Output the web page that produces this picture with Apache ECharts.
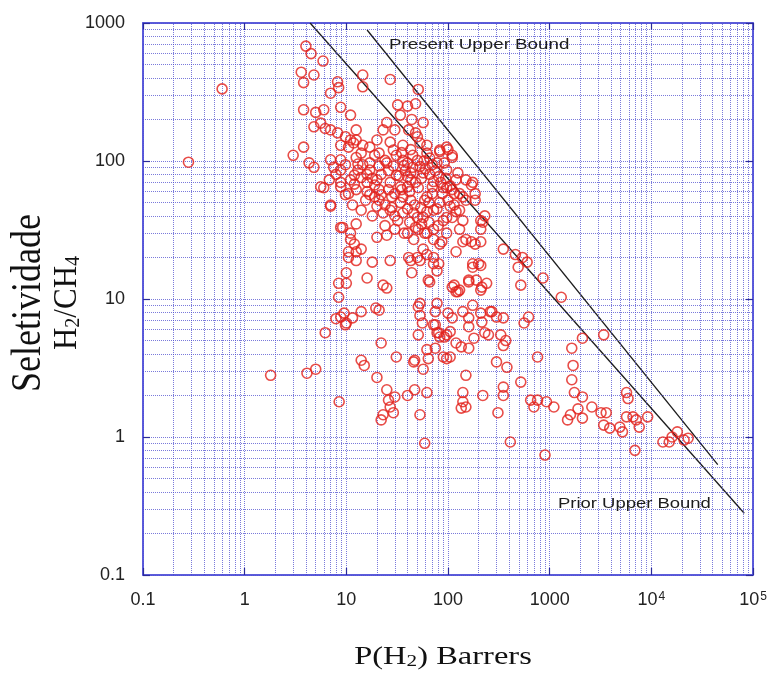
<!DOCTYPE html>
<html><head><meta charset="utf-8">
<script src="https://cdn.jsdelivr.net/npm/echarts@6/dist/echarts.min.js"></script>
<style>html,body{margin:0;padding:0;background:#fff}#c{width:775px;height:673px}</style>
</head><body><div id="c"></div>
<script>
// P(H2) [Barrer], selectivity H2/CH4
const membranePoints = [
[0.28,98],[0.6,333],[1.8,2.8],[4.1,2.9],[5.0,3.1],[8.5,1.8],
[4.0,680],[4.5,600],[5.9,530],[3.6,440],[4.8,420],[3.8,370],[8.2,375],[7.0,310],[8.4,340],[14.5,420],[14.5,345],[27,390],[51,330],
[3.8,235],[6.0,235],[8.8,245],[11,215],[4.8,177],[5.6,188],[7.0,168],[8.2,160],[9.8,150],[11,142],[11.8,135],[10.5,126],[3.0,110],
[3.8,126],[4.3,97],[4.8,90],[7.0,102],[7.5,90],[8.8,102],[5.6,65],[8.8,70],[7.0,48],[8.8,33],[11,27],[10.5,22],[12.5,22],[18,18.5],
[27,19],[16,14.2],[23,12.6],[8.4,13],[10,15.5],
[32,255],[40,250],[48,260],[34,215],[44,200],[57,190],[25,190],[23,168],[30,168],[41,168],[50,150],[20,142],[27,137],[36,130],[53,135],
[17,126],[21,114],[31,110],[62,114],[83,120],[97,126],[110,110],[17,97],[25,97],[40,97],[53,91],[78,97],[97,86],[5.0,225],[6.2,172],
[8.8,130],[12.5,168],[12.5,142],[14,114],[13,86],
[6,64],[6.8,73],[7.9,80],[8.8,65],[11,73],[10.5,58],[14,76],[12.5,62],[16,70],[17,57],[20,73],[21,62],[27,70],[28,55],[34,65],[40,77],
[43,52],[51,64],[62,55],[72,71],[83,50],[97,64],[120,73],[130,58],[150,52],[175,70],[185,58],[20,47],[23,42],[28,46],[40,45],[50,39],
[62,43],[78,45],[97,39],[120,43],[140,37],[210,37],[7,47],[12.5,35],[9.2,33],[11,30],[12,25],[14,23],[10.5,20],[12.5,19],[20,28],
[25,29],[30,32],[40,30],[46,27],[62,30],[72,27],[87,26],[57,23],[43,19],[50,20],[72,20],[81,18],[140,26],[170,26],[210,26],[120,22],
[175,18],[210,17.5],[44,15.5],[64,13.7],[78,16],[25,12],[10,13],[8.4,10.3],[110,12.2],[130,11.6],[160,13.7],[190,13.7],[210,11.6],
[53,9.3],[78,9.3],[75,8.1],[175,9],[210,7.9],[9.5,7.9],[14,8.1],[21,8.3],[8.8,7.4],
[11.5,7.3],[9.8,6.5],[6.2,5.7],[22,4.8],[14,3.6],[15,3.3],[20,2.7],[31,3.8],[47,3.6],[25,2.2],[30,1.95],[26,1.85],[27,1.65],[29,1.5],
[23,1.45],[22,1.33],[40,2.0],[47,2.2],[62,2.1],[53,1.45],[59,0.9],[51,8.8],[53,7.6],[56,6.7],[75,6.5],[51,5.5],[81,5.7],[97,5.5],
[62,4.3],[75,4.4],[64,3.7],[97,3.7],[105,3.8],[100,7.9],[110,7.3],[140,8.1],[160,7.3],[215,6.8],[160,6.3],[83,5.3],[105,5.8],[120,4.8],
[135,4.5],[160,4.4],[180,5.2],[230,5.7],[270,8.1],[300,7.4],[350,7.3],[250,5.5],[330,5.5],[370,5.0],[350,4.6],[560,6.7],[620,7.4],
[760,3.8],[300,3.5],[380,3.2],[150,2.8],[520,2.5],[350,2.3],[350,2.0],[220,2.0],[140,2.1],[140,1.8],[150,1.65],[135,1.62],[310,1.5],
[650,1.85],[760,1.85],[700,1.65],[930,1.8],[1100,1.65],[410,0.92],[900,0.74],
[7.9,7.2],[10,6.7],[19.5,8.6],[46,3.5],[57,3.1],[72,6.5],[78,5.7],[92,5.3],[90,3.8],
[1300,10.3],[2100,5.2],[3400,5.5],[1650,4.4],[1700,3.3],[1650,2.6],[1750,2.1],[2100,1.95],[1900,1.6],[1600,1.45],[1500,1.33],
[2100,1.37],[2600,1.65],[3200,1.5],[3600,1.5],[3400,1.22],[3900,1.16],[4900,1.18],[5700,2.1],[5900,1.9],[5700,1.4],[5200,1.09],
[6600,1.4],[7100,1.33],[7600,1.18],[9200,1.4],[6900,0.8],[13000,0.92],[16000,1.0],[18000,1.09],[21000,0.95],[23000,0.98],[15000,0.92],
[66,13.3],[115,12.6],[125,11.3],[160,13.3],[240,13],[520,12.6],[260,8.1],
[48,160],[62,130],[83,117],[100,121],[110,106],[92,97],[43,121],[36,101],[50,101],[70,94],[43,82],[57,82],[81,77],[125,82],[150,73],
[170,67],[185,52],[140,55],[110,62],[90,64],[70,65],[40,65],[59,52],[105,47],[130,44],[72,44],[46,42],[57,39],[90,37],[110,39],
[230,40],[220,36],[210,32],[150,27],[185,25],[130,32],[350,23],[460,21],[540,20],[600,18.5],[490,17],[860,14.2],[120,11.3],[215,12.2],
[175,17],[200,18],[72,18],[53,19],[41,20],[62,21],[83,25],[37,30],[51,32],[59,30],[72,32],[97,30],
[17,86],[19,67],[15.5,52],[24,101],[31,79],[35,62],[21,52],[27,44],[32,37],[24,34],[18,40],[14,44],[37,93],[43,73],[19,110],[16,60],
[12,68],[9.8,57],[11.5,48],[14.5,94],[12,79],[9.8,94],[8.8,86],[12.5,106],[14.5,130],
[18,75],[22,80],[26,85],[29,92],[33,78],[38,85],[45,90],[48,70],[55,75],[60,88],[66,80],[75,85],[85,70],[95,75],[105,66],[115,58],
[22,57],[26,62],[30,58],[36,55],[42,60],[47,48],[54,46],[65,50],[70,58],[88,58],[100,52],[115,48],[24,48],[30,40],[36,42],[42,36],
[48,33],[55,35],[65,36],[80,34],[34,50],[19,55],[16,80],[13,95],[21,92],[29,120],[35,115],[45,110],[58,100],[66,105]
];
const presentUpperBound = [[16, 890], [45000, 0.63]];
const priorUpperBound = [[4.4, 1000], [82000, 0.28]];
const xAxisRange = [0.1, 100000];
const yAxisRange = [0.1, 1000];
const xDecades = [0.1, 1, 10, 100, 1000, 10000];
const yDecades = [0.1, 1, 10, 100];
const minorSteps = [2, 3, 4, 5, 6, 7, 8, 9];

const gridColor = 'rgba(70,70,205,0.72)';
const frameColor = '#5252d8';
const minorLines = [];
xDecades.forEach(d => minorSteps.forEach(m => minorLines.push({xAxis: +(d * m).toPrecision(3)})));
yDecades.forEach(d => minorSteps.forEach(m => minorLines.push({yAxis: +(d * m).toPrecision(3)})));

function xLabel(v) {
  const e = Math.round(Math.log10(v));
  if (e >= 4) return '10{s|' + e + '}';
  return e < 0 ? '0.1' : String(Math.round(v));
}

const chart = echarts.init(document.getElementById('c'), null, {renderer: 'canvas'});
const sansFont = 'Liberation Sans, Arial, sans-serif';
const serifFont = 'Liberation Serif, Times New Roman, serif';
const tickStyle = {show: true, inside: true, length: 7, lineStyle: {color: '#2a2a9a', width: 1.2}};
chart.setOption({
  animation: false,
  backgroundColor: '#fff',
  grid: {left: 143, right: 22, top: 23, bottom: 98, show: true, borderColor: frameColor, borderWidth: 1.5, backgroundColor: 'transparent'},
  xAxis: [
    {type: 'log', logBase: 10, min: xAxisRange[0], max: xAxisRange[1], splitNumber: 6,
     axisLine: {show: true, lineStyle: {color: frameColor, width: 1.5}},
     axisTick: tickStyle, minorTick: {show: false},
     splitLine: {show: true, lineStyle: {color: gridColor, type: 'dotted', width: 1}},
     axisLabel: {fontFamily: sansFont, fontSize: 18, color: '#222', margin: 16, formatter: xLabel,
       rich: {s: {fontSize: 12, fontFamily: sansFont, color: '#222', verticalAlign: 'top', padding: [0, 0, 0, 1]}}}},
    {type: 'log', logBase: 10, min: xAxisRange[0], max: xAxisRange[1], splitNumber: 6, position: 'top',
     axisLine: {show: true, lineStyle: {color: frameColor, width: 1.5}},
     axisTick: tickStyle, axisLabel: {show: false}, splitLine: {show: false}}
  ],
  yAxis: [
    {type: 'log', logBase: 10, min: yAxisRange[0], max: yAxisRange[1], splitNumber: 4,
     axisLine: {show: true, lineStyle: {color: frameColor, width: 1.5}},
     axisTick: tickStyle,
     splitLine: {show: true, lineStyle: {color: gridColor, type: 'dotted', width: 1}},
     axisLabel: {fontFamily: sansFont, fontSize: 18, color: '#222', margin: 18,
       formatter: v => (v < 1 ? '0.1' : String(Math.round(v)))}},
    {type: 'log', logBase: 10, min: yAxisRange[0], max: yAxisRange[1], splitNumber: 4, position: 'right',
     axisLine: {show: true, lineStyle: {color: frameColor, width: 1.5}},
     axisTick: tickStyle, axisLabel: {show: false}, splitLine: {show: false}}
  ],
  series: [
    {type: 'line', data: [], z: 1, silent: true,
     markLine: {silent: true, symbol: 'none', animation: false, label: {show: false},
       lineStyle: {color: gridColor, type: 'dotted', width: 1}, data: minorLines}},
    {type: 'line', data: priorUpperBound, symbol: 'none', z: 4, silent: true,
     lineStyle: {color: '#1c1c1c', width: 1.3}},
    {type: 'line', data: presentUpperBound, symbol: 'none', z: 4, silent: true,
     lineStyle: {color: '#1c1c1c', width: 1.3}},
    {type: 'scatter', data: membranePoints, symbol: 'circle', symbolSize: 10, z: 5,
     itemStyle: {color: 'rgba(255,255,255,0)', borderColor: '#e2201a', borderWidth: 1.6}}
  ],
  graphic: [
    {type: 'text', x: 389, y: 45, scaleX: 1.25, z: 10,
     style: {text: 'Present Upper Bound', font: '15px ' + sansFont, fill: '#1c1c1c', align: 'left', verticalAlign: 'middle'}},
    {type: 'text', x: 558, y: 504, scaleX: 1.23, z: 10,
     style: {text: 'Prior Upper Bound', font: '15px ' + sansFont, fill: '#1c1c1c', align: 'left', verticalAlign: 'middle'}},
    {type: 'text', x: 29, y: 303, rotation: Math.PI / 2, scaleY: 1.15, z: 10,
     style: {text: 'Seletividade', font: '36px ' + serifFont, fill: '#111', align: 'center', verticalAlign: 'middle'}},
    {type: 'text', x: 67, y: 303, rotation: Math.PI / 2, scaleY: 1.1, z: 10,
     style: {text: 'H{sub|2}/CH{sub|4}', font: '31px ' + serifFont, fill: '#111', align: 'center', verticalAlign: 'middle',
       rich: {sub: {font: '20px ' + serifFont, fill: '#111', verticalAlign: 'bottom'}}}},
    {type: 'text', x: 443, y: 657, scaleX: 1.25, z: 10,
     style: {text: 'P(H{sub|2}) Barrers', font: '26px ' + serifFont, fill: '#111', align: 'center', verticalAlign: 'middle',
       rich: {sub: {font: '17px ' + serifFont, fill: '#111', verticalAlign: 'bottom'}}}}
  ]
});
</script></body></html>
